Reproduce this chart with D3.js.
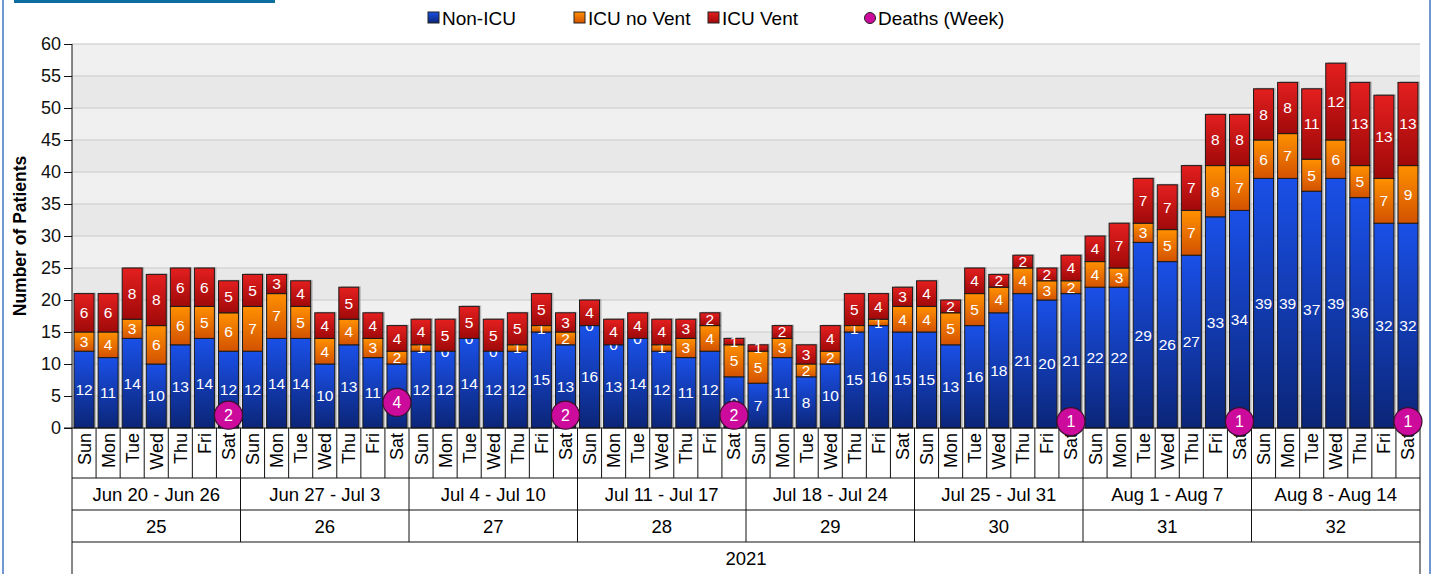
<!DOCTYPE html>

<head>
    <meta charset="utf-8">
    <style>
        body {
            margin: 0;
            background-color: #fff;
            overflow: hidden;
            font-family: "Liberation Sans", Arial, sans-serif;
        }
    </style>
</head>

<body>
    <div id="chart-area"></div>

    <script src="https://d3js.org/d3.v7.min.js"></script>
    <script>
        var dayNames = ["Sun", "Mon", "Tue", "Wed", "Thu", "Fri", "Sat"]
        var weekRanges = ["Jun 20 - Jun 26", "Jun 27 - Jul 3", "Jul 4 - Jul 10", "Jul 11 - Jul 17",
            "Jul 18 - Jul 24", "Jul 25 - Jul 31", "Aug 1 - Aug 7", "Aug 8 - Aug 14"]
        var weekNums = ["25", "26", "27", "28", "29", "30", "31", "32"]
        var year = "2021"

        var nonIcu = [12, 11, 14, 10, 13, 14, 12,
            12, 14, 14, 10, 13, 11, 10,
            12, 12, 14, 12, 12, 15, 13,
            16, 13, 14, 12, 11, 12, 8,
            7, 11, 8, 10, 15, 16, 15,
            15, 13, 16, 18, 21, 20, 21,
            22, 22, 29, 26, 27, 33, 34,
            39, 39, 37, 39, 36, 32, 32]
        var icuNoVent = [3, 4, 3, 6, 6, 5, 6,
            7, 7, 5, 4, 4, 3, 2,
            1, 0, 0, 0, 1, 1, 2,
            0, 0, 0, 1, 3, 4, 5,
            5, 3, 2, 2, 1, 1, 4,
            4, 5, 5, 4, 4, 3, 2,
            4, 3, 3, 5, 7, 8, 7,
            6, 7, 5, 6, 5, 7, 9]
        var icuVent = [6, 6, 8, 8, 6, 6, 5,
            5, 3, 4, 4, 5, 4, 4,
            4, 5, 5, 5, 5, 5, 3,
            4, 4, 4, 4, 3, 2, 1,
            1, 2, 3, 4, 5, 4, 3,
            4, 2, 4, 2, 2, 2, 4,
            4, 7, 7, 7, 7, 8, 8,
            8, 8, 11, 12, 13, 13, 13]
        // deaths per week, shown on the saturday of each week
        var deathsWeek = [2, 4, 2, 2, null, 1, 1, 1]

        var yTicks = d3.range(0, 61, 5)

        var series = [
            { key: "Non-ICU", values: nonIcu, grad: "gBlue" },
            { key: "ICU no Vent", values: icuNoVent, grad: "gOrange" },
            { key: "ICU Vent", values: icuVent, grad: "gRed" }
        ]

        var W = 1433, H = 574
        var margins = { left: 72, right: 1420, top: 44, bottom: 428 }
        var rowDay = 478, rowWeek = 510, rowNum = 542

        var svg = d3.select("#chart-area").append("svg")
            .attr("width", W).attr("height", H)
            .style("display", "block")

        var defs = svg.append("defs")
        var grads = {
            gBlue: ["#1a50e8", "#0b2577"],
            gOrange: ["#ff9000", "#d35200"],
            gRed: ["#e41f1f", "#a00909"]
        }
        Object.keys(grads).forEach((k) => {
            var g = defs.append("linearGradient").attr("id", k)
                .attr("x1", 0).attr("y1", 0).attr("x2", 0).attr("y2", 1)
            g.append("stop").attr("offset", "0%").attr("stop-color", grads[k][0])
            g.append("stop").attr("offset", "100%").attr("stop-color", grads[k][1])
        })

        var n = nonIcu.length
        var x = d3.scaleBand().domain(d3.range(n))
            .range([margins.left, margins.right])
            .paddingInner(0.17).paddingOuter(0.085)
        var step = (margins.right - margins.left) / n
        var y = d3.scaleLinear().domain([0, 60]).range([margins.bottom, margins.top])

        // frame bits
        svg.append("rect").attr("x", 14).attr("y", 0).attr("width", 261).attr("height", 3).attr("fill", "#0b6e9e")
        svg.append("rect").attr("x", 2).attr("y", 0).attr("width", 2).attr("height", H).attr("fill", "#6f98d2")
        svg.append("rect").attr("x", 1429).attr("y", 0).attr("width", 2).attr("height", H).attr("fill", "#6f98d2")

        // background bands + grid
        svg.append("g").selectAll("rect")
            .data(yTicks.slice(0, -1))
            .join("rect")
            .attr("x", margins.left).attr("width", margins.right - margins.left)
            .attr("y", (d) => y(d + 5)).attr("height", (d) => y(d) - y(d + 5))
            .attr("fill", (d, i) => i % 2 == 0 ? "#e8e8e8" : "#f0f0f0")

        svg.append("g").selectAll("line")
            .data(yTicks.slice(1))
            .join("line")
            .attr("x1", margins.left).attr("x2", margins.right)
            .attr("y1", (d) => y(d)).attr("y2", (d) => y(d))
            .attr("stroke", "#d6d6d6").attr("stroke-width", 1.5)

        // y axis
        var yAxis = svg.append("g").attr("transform", `translate(${margins.left},0)`)
            .call(d3.axisLeft(y).tickValues(yTicks).tickSize(8).tickPadding(3))
        yAxis.select(".domain").remove()
        yAxis.selectAll("text").style("font-size", "18px").attr("fill", "#111")
            .style("font-family", "'Liberation Sans', Arial, sans-serif")
        yAxis.selectAll("line").attr("stroke", "#111")

        svg.append("line").attr("x1", margins.left).attr("x2", margins.left)
            .attr("y1", margins.top).attr("y2", H).attr("stroke", "#111")

        svg.append("text")
            .attr("transform", "translate(26,236) rotate(-90)")
            .attr("text-anchor", "middle")
            .style("font-size", "17.5px").style("font-weight", "bold")
            .text("Number of Patients")

        // stacked bars
        var rows = d3.range(n).map((i) => ({ i: i, "Non-ICU": nonIcu[i], "ICU no Vent": icuNoVent[i], "ICU Vent": icuVent[i] }))
        var stack = d3.stack().keys(series.map((s) => s.key))(rows)

        var totals = rows.map((r) => r["Non-ICU"] + r["ICU no Vent"] + r["ICU Vent"])
        svg.append("g").selectAll("rect")
            .data(totals)
            .join("rect")
            .attr("x", (d, i) => x(i) + 2).attr("width", x.bandwidth())
            .attr("y", (d) => y(d) - 1).attr("height", (d) => y(0) - y(d) + 1)
            .attr("fill", "#9a9a9a").attr("opacity", 0.6)

        var layers = svg.append("g").selectAll("g")
            .data(stack)
            .join("g")
            .attr("fill", (d, k) => `url(#${series[k].grad})`)

        layers.selectAll("rect")
            .data((d) => d)
            .join("rect")
            .attr("x", (d) => x(d.data.i)).attr("width", x.bandwidth())
            .attr("y", (d) => y(d[1])).attr("height", (d) => y(d[0]) - y(d[1]))
            .attr("stroke", "#1a1a1a").attr("stroke-width", 1)

        layers.selectAll("text")
            .data((d) => d)
            .join("text")
            .attr("x", (d) => x(d.data.i) + x.bandwidth() / 2)
            .attr("y", (d) => (y(d[0]) + y(d[1])) / 2 + 5.4)
            .attr("text-anchor", "middle")
            .attr("fill", "#fff")
            .style("font-size", "15.5px")
            .text((d) => d[1] - d[0])

        // category axis (day / week range / week number / year)
        var cat = svg.append("g")
        cat.append("line").attr("x1", margins.left - 8).attr("x2", margins.right)
            .attr("y1", margins.bottom).attr("y2", margins.bottom).attr("stroke", "#111")
        ;[rowDay, rowWeek, rowNum].forEach((yy) => {
            cat.append("line").attr("x1", margins.left).attr("x2", margins.right)
                .attr("y1", yy).attr("y2", yy).attr("stroke", "#111")
        })
        cat.append("line").attr("x1", margins.right).attr("x2", margins.right)
            .attr("y1", margins.bottom).attr("y2", H).attr("stroke", "#111")

        cat.selectAll(".sep")
            .data(d3.range(1, n))
            .join("line")
            .attr("class", "sep")
            .attr("x1", (d) => margins.left + d * step).attr("x2", (d) => margins.left + d * step)
            .attr("y1", margins.bottom).attr("y2", (d) => d % 7 == 0 ? rowNum : rowDay)
            .attr("stroke", "#111")

        cat.selectAll(".day")
            .data(d3.range(n))
            .join("text")
            .attr("class", "day")
            .attr("transform", (d) => `translate(${x(d) + x.bandwidth() / 2 + 6.5},433) rotate(-90)`)
            .attr("text-anchor", "end")
            .style("font-size", "18px")
            .text((d) => dayNames[d % 7])

        cat.selectAll(".wk")
            .data(weekRanges)
            .join("text")
            .attr("class", "wk")
            .attr("x", (d, i) => margins.left + (i + 0.5) * 7 * step)
            .attr("y", 500.5)
            .attr("text-anchor", "middle")
            .style("font-size", "18.5px")
            .text((d) => d)

        cat.selectAll(".wn")
            .data(weekNums)
            .join("text")
            .attr("class", "wn")
            .attr("x", (d, i) => margins.left + (i + 0.5) * 7 * step)
            .attr("y", 532.5)
            .attr("text-anchor", "middle")
            .style("font-size", "18.5px")
            .text((d) => d)

        cat.append("text")
            .attr("x", (margins.left + margins.right) / 2).attr("y", 564.5)
            .attr("text-anchor", "middle")
            .style("font-size", "18.5px")
            .text(year)

        // deaths markers
        var deaths = deathsWeek.map((v, w) => ({ v: v, i: w * 7 + 6 })).filter((d) => d.v != null)
        var dg = svg.append("g").selectAll("g")
            .data(deaths)
            .join("g")
            .attr("transform", (d) => `translate(${x(d.i) + x.bandwidth() / 2},${y(d.v)})`)
        dg.append("circle").attr("r", 14).attr("fill", "#cc0a9c").attr("stroke", "#3a1030").attr("stroke-width", 1.2)
        dg.append("text").attr("y", 5.5).attr("text-anchor", "middle")
            .attr("fill", "#fff").style("font-size", "16px").text((d) => d.v)

        // legend
        var legendItems = [
            { label: "Non-ICU", x: 428, grad: "gBlue" },
            { label: "ICU no Vent", x: 574, grad: "gOrange" },
            { label: "ICU Vent", x: 708, grad: "gRed" },
            { label: "Deaths (Week)", x: 864, dot: true }
        ]
        var lg = svg.append("g").selectAll("g")
            .data(legendItems)
            .join("g")
            .attr("transform", (d) => `translate(${d.x},18)`)
        lg.filter((d) => !d.dot).append("rect")
            .attr("x", 0).attr("y", -6).attr("width", 11).attr("height", 11)
            .attr("fill", (d) => `url(#${d.grad})`).attr("stroke", "#222")
        lg.filter((d) => d.dot).append("circle")
            .attr("cx", 6).attr("cy", 0).attr("r", 5.5)
            .attr("fill", "#cc0a9c").attr("stroke", "#222")
        lg.append("text").attr("x", 14).attr("y", 6.8)
            .style("font-size", "19px")
            .text((d) => d.label)
    </script>
</body>
